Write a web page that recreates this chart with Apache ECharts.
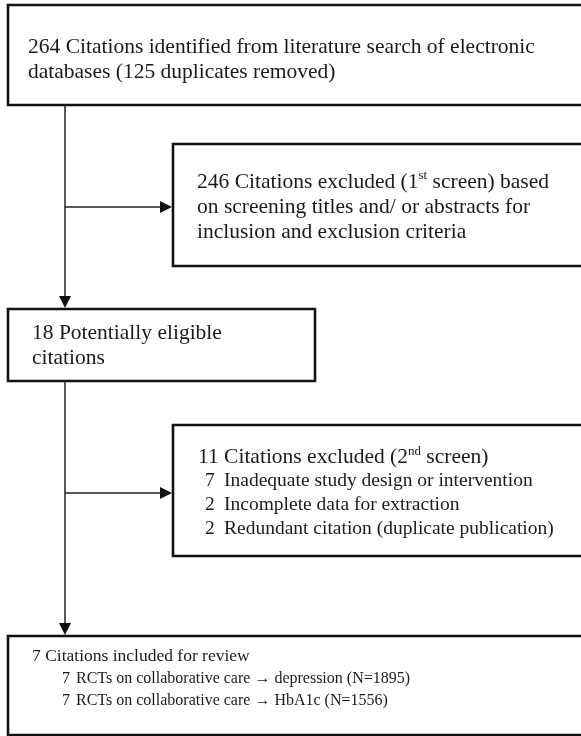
<!DOCTYPE html>
<html>
<head>
<meta charset="utf-8">
<script src="https://cdn.jsdelivr.net/npm/echarts@6/dist/echarts.min.js"></script>
<style>
html,body{margin:0;padding:0;background:#fff;}
#chart{width:581px;height:736px;}
</style>
</head>
<body>
<div id="chart"></div>
<script>
// ---- data ----
const identifiedCount = 264;
const duplicatesRemoved = 125;
const excludedFirst = 246;
const eligibleCount = 18;
const excludedSecond = 11;
const secondReasonCounts = [7, 2, 2];
const secondReasons = ['Inadequate study design or intervention', 'Incomplete data for extraction', 'Redundant citation (duplicate publication)'];
const includedCount = 7;
const outcomeRCTs = [7, 7];
const outcomeNames = ['depression', 'HbA1c'];
const outcomeN = [1895, 1556];

// ---- layout (positions only) ----
const FONT = '"Liberation Serif", "Times New Roman", serif';
const TXT = '#1a1a1a';
const boxes = [
  {x: 8, y: 5, w: 600, h: 100},
  {x: 173, y: 144, w: 430, h: 122},
  {x: 8, y: 309, w: 307, h: 72},
  {x: 173, y: 425, w: 430, h: 131},
  {x: 8, y: 636, w: 600, h: 99}
];
const spineX = 65;

const chart = echarts.init(document.getElementById('chart'), null, {renderer: 'canvas'});
const g = [];
boxes.forEach(b => g.push({type: 'rect', shape: {x: b.x, y: b.y, width: b.w, height: b.h},
  style: {fill: '#fff', stroke: '#111', lineWidth: 2.6}}));

function line(x1, y1, x2, y2) {
  g.push({type: 'line', shape: {x1, y1, x2, y2}, style: {stroke: '#222', lineWidth: 1.5}});
}
function headDown(x, y) {
  g.push({type: 'polygon', shape: {points: [[x - 6, y - 12], [x + 6, y - 12], [x, y]]}, style: {fill: '#111'}});
}
function headRight(x, y) {
  g.push({type: 'polygon', shape: {points: [[x - 12, y - 6], [x - 12, y + 6], [x, y]]}, style: {fill: '#111'}});
}
// connectors
line(spineX, boxes[0].y + boxes[0].h, spineX, boxes[2].y - 6); headDown(spineX, boxes[2].y - 1);
line(spineX, 207, boxes[1].x - 6, 207); headRight(boxes[1].x - 1, 207);
line(spineX, boxes[2].y + boxes[2].h, spineX, boxes[4].y - 6); headDown(spineX, boxes[4].y - 1);
line(spineX, 493, boxes[3].x - 6, 493); headRight(boxes[3].x - 1, 493);

const sup = {fontSize: 13, fontFamily: FONT, fill: TXT, verticalAlign: 'top', padding: [0, 0, 9, 0]};
function text(x, y, t, size, lh, rich) {
  g.push({type: 'text', x, y, style: {text: t, fontFamily: FONT, fontSize: size, lineHeight: lh, fill: TXT,
    verticalAlign: 'middle', align: 'left', rich: rich || {}}});
}
const BIG = 21.5;
// box 1
text(28, 47, identifiedCount + ' Citations identified from literature search of electronic', BIG, 25);
text(28, 72, 'databases (' + duplicatesRemoved + ' duplicates removed)', BIG, 25);
// box 2
text(197, 182, excludedFirst + ' Citations excluded (1{s|st} screen) based', BIG, 25, {s: sup});
text(197, 207, 'on screening titles and/ or abstracts for', BIG, 25);
text(197, 232, 'inclusion and exclusion criteria', BIG, 25);
// box 3
text(32, 333, eligibleCount + ' Potentially eligible', BIG, 25);
text(32, 358, 'citations', BIG, 25);
// box 4
text(198, 457, excludedSecond + ' Citations excluded (2{s|nd} screen)', BIG, 24, {s: sup});
secondReasons.forEach((r, i) => {
  text(205, 481 + i * 24, String(secondReasonCounts[i]), 19.5, 24);
  text(224, 481 + i * 24, r, 19.5, 24);
});
// box 5
text(32, 656, includedCount + ' Citations included for review', 17.5, 22);
outcomeNames.forEach((o, i) => {
  text(62, 679 + i * 22, String(outcomeRCTs[i]), 16, 22);
  text(76, 679 + i * 22, 'RCTs on collaborative care \u2192 ' + o + ' (N=' + outcomeN[i] + ')', 16, 22);
});

chart.setOption({backgroundColor: '#fff', animation: false, graphic: {elements: g}});
</script>
</body>
</html>
